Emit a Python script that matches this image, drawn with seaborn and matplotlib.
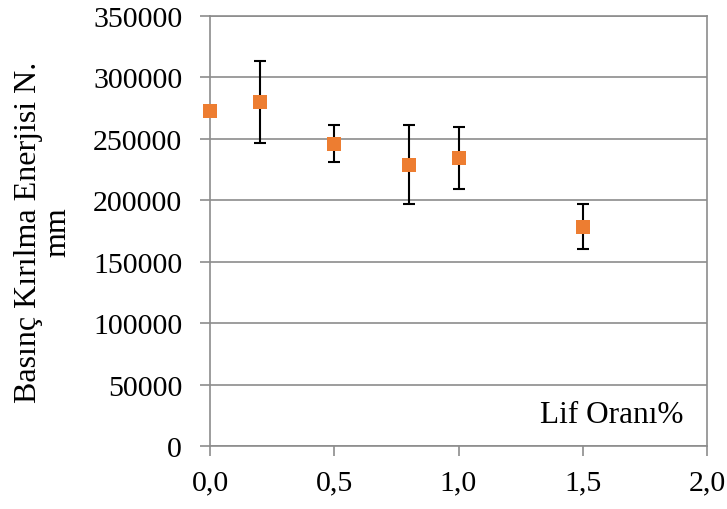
import matplotlib
matplotlib.use("Agg")
import matplotlib.pyplot as plt
import seaborn as sns
import pandas as pd
from matplotlib.ticker import FuncFormatter, MultipleLocator

fiber_ratio = [0.0, 0.2, 0.5, 0.8, 1.0, 1.5]
energy = [272500, 280000, 246000, 229000, 234500, 178500]
energy_err = [0, 33500, 15000, 32000, 25500, 18200]

sns.set_theme(style="white")
plt.rcParams["font.family"] = ["Liberation Serif", "DejaVu Serif"]

df = pd.DataFrame({"x": fiber_ratio, "y": energy, "err": energy_err})

fig = plt.figure(figsize=(7.27, 5.10), dpi=100)
ax = fig.add_axes([210/727, 1 - 447/510, (707-210)/727, (447-17)/510])

ax.errorbar(df["x"], df["y"], yerr=df["err"], fmt="none", ecolor="black",
            elinewidth=1.5, capsize=4.5, capthick=1.5, zorder=3)
sns.scatterplot(data=df, x="x", y="y", marker="s", s=115, color="#ED7D31",
                edgecolor="#ED7D31", linewidth=0, ax=ax, zorder=4, clip_on=False)

ax.set_xlim(0, 2.0)
ax.set_ylim(0, 350000)
ax.xaxis.set_major_locator(MultipleLocator(0.5))
ax.yaxis.set_major_locator(MultipleLocator(50000))
ax.xaxis.set_major_formatter(FuncFormatter(lambda v, p: f"{v:.1f}".replace(".", ",")))
ax.yaxis.set_major_formatter(FuncFormatter(lambda v, p: f"{int(v)}"))

ax.grid(axis="y", color="#8C8C8C", linewidth=1.2)
ax.grid(axis="x", visible=False)
ax.set_axisbelow(True)
for sp in ax.spines.values():
    sp.set_color("#8C8C8C")
    sp.set_linewidth(1.2)

ax.tick_params(axis="both", which="major", labelsize=21.5, colors="#8C8C8C",
               labelcolor="black", length=7, width=1.2, direction="out",
               bottom=True, left=True)
ax.tick_params(axis="x", pad=10)
ax.tick_params(axis="y", pad=13)

ax.set_xlabel("")
ax.set_ylabel("Basınç Kırılma Enerjisi N.\nmm", fontsize=23, color="black",
              linespacing=1.0, labelpad=15)
ax.text(1.905, 25500, "Lif Oranı%", ha="right", va="center", fontsize=22.5,
        color="black")

fig.savefig("out.png", dpi=100)
